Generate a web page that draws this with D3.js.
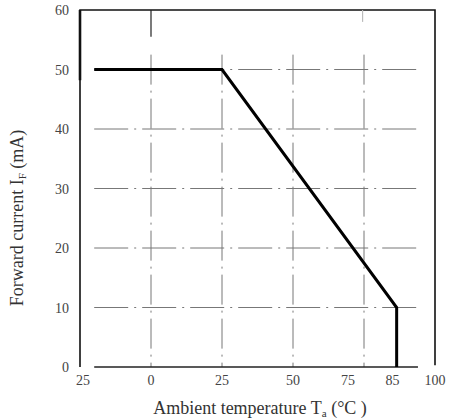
<!DOCTYPE html>
<html>
<head>
<meta charset="utf-8">
<script src="https://cdn.jsdelivr.net/npm/d3@7"></script>
<style>
  body { margin: 0; background: #fff; }
  svg { display: block; }
  text { font-family: "Liberation Serif", "Times New Roman", "DejaVu Serif", serif; }
</style>
</head>
<body>
<svg id="chart" width="454" height="418"></svg>
<script>
// derating curve: ambient temperature (°C) vs max forward current (mA)
const temps = [-20, 25, 86.5, 86.5];
const currents = [50, 50, 10, 0];

const xTickValues = [-25, 0, 25, 50, 75, 85, 100];
const xTickLabels = ["25", "0", "25", "50", "75", "85", "100"];
const yTickValues = [0, 10, 20, 30, 40, 50, 60];
const xGridValues = [0, 25, 50, 75];
const yGridValues = [10, 20, 30, 40, 50];

const svg = d3.select("#chart");

const x = d3.scaleLinear().domain([-25, 100]).range([80, 435]);
const y = d3.scaleLinear().domain([0, 60]).range([367, 10]);

// grid area runs a bit inside the frame
const gx0 = x(-20), gx1 = x(94);

// horizontal dash-dot grid
svg.selectAll(".hgrid")
  .data(yGridValues)
  .enter()
  .append("line")
  .attr("x1", gx0).attr("x2", gx1)
  .attr("y1", d => y(d)).attr("y2", d => y(d))
  .attr("stroke", "#777")
  .attr("stroke-width", 1)
  .attr("stroke-dasharray", "34,6,2,6");

// vertical dash-dot grid
svg.selectAll(".vgrid")
  .data(xGridValues)
  .enter()
  .append("line")
  .attr("x1", d => x(d)).attr("x2", d => x(d))
  .attr("y1", y(52.5)).attr("y2", y(0))
  .attr("stroke", "#777")
  .attr("stroke-width", 1)
  .attr("stroke-dasharray", "30,6,2,6");

// baseline at 0 mA
svg.append("line")
  .attr("x1", gx0).attr("x2", gx1)
  .attr("y1", y(0)).attr("y2", y(0))
  .attr("stroke", "#222")
  .attr("stroke-width", 1.6);

// frame (left, top, right)
svg.append("path")
  .attr("d", `M${x(-25)},${y(0)} V${y(60)} H${x(100)} V${y(0.3)}`)
  .attr("fill", "none")
  .attr("stroke", "#111")
  .attr("stroke-width", 1.6);
// heavier top-left stub of frame
svg.append("line")
  .attr("x1", x(-25)).attr("x2", x(-25))
  .attr("y1", y(60)).attr("y2", y(48.2))
  .attr("stroke", "#111")
  .attr("stroke-width", 2.6);
// little marks hanging off the top edge
svg.append("line")
  .attr("x1", x(0)).attr("x2", x(0))
  .attr("y1", y(60)).attr("y2", y(55.5))
  .attr("stroke", "#222")
  .attr("stroke-width", 1.2);
svg.append("line")
  .attr("x1", x(74.5)).attr("x2", x(74.5))
  .attr("y1", y(60)).attr("y2", y(58))
  .attr("stroke", "#bbb")
  .attr("stroke-width", 1.2);

// derating curve
const line = d3.line()
  .x((d, i) => x(temps[i]))
  .y((d, i) => y(currents[i]));

svg.append("path")
  .datum(currents)
  .attr("d", line)
  .attr("fill", "none")
  .attr("stroke", "#000")
  .attr("stroke-width", 3)
  .attr("stroke-linejoin", "miter");

// y tick labels
svg.selectAll(".ylab")
  .data(yTickValues)
  .enter()
  .append("text")
  .attr("x", 69)
  .attr("y", d => y(d) + 5)
  .attr("text-anchor", "end")
  .style("font-size", "14px")
  .attr("fill", "#444")
  .text(d => d);

// x tick labels (75 sits left of its gridline on the original)
const xNudge = { "-25": 3, 75: -16 };
svg.selectAll(".xlab")
  .data(xTickValues)
  .enter()
  .append("text")
  .attr("x", d => x(d) + (xNudge[d] || 0))
  .attr("y", 385)
  .attr("text-anchor", "middle")
  .style("font-size", "14px")
  .attr("fill", "#444")
  .text((d, i) => xTickLabels[i]);

// axis titles
const xlab = svg.append("text")
  .attr("x", 260)
  .attr("y", 414)
  .attr("text-anchor", "middle")
  .style("font-size", "18px")
  .attr("fill", "#333");
xlab.append("tspan").text("Ambient temperature T");
xlab.append("tspan").attr("dy", 3).style("font-size", "11px").text("a");
xlab.append("tspan").attr("dy", -3).text(" (°C )");

const ylab = svg.append("text")
  .attr("transform", "translate(23,218) rotate(-90)")
  .attr("text-anchor", "middle")
  .style("font-size", "18px")
  .attr("fill", "#333");
ylab.append("tspan").text("Forward current I");
ylab.append("tspan").attr("dy", 3).style("font-size", "11px").text("F");
ylab.append("tspan").attr("dy", -3).text(" (mA)");
</script>
</body>
</html>
